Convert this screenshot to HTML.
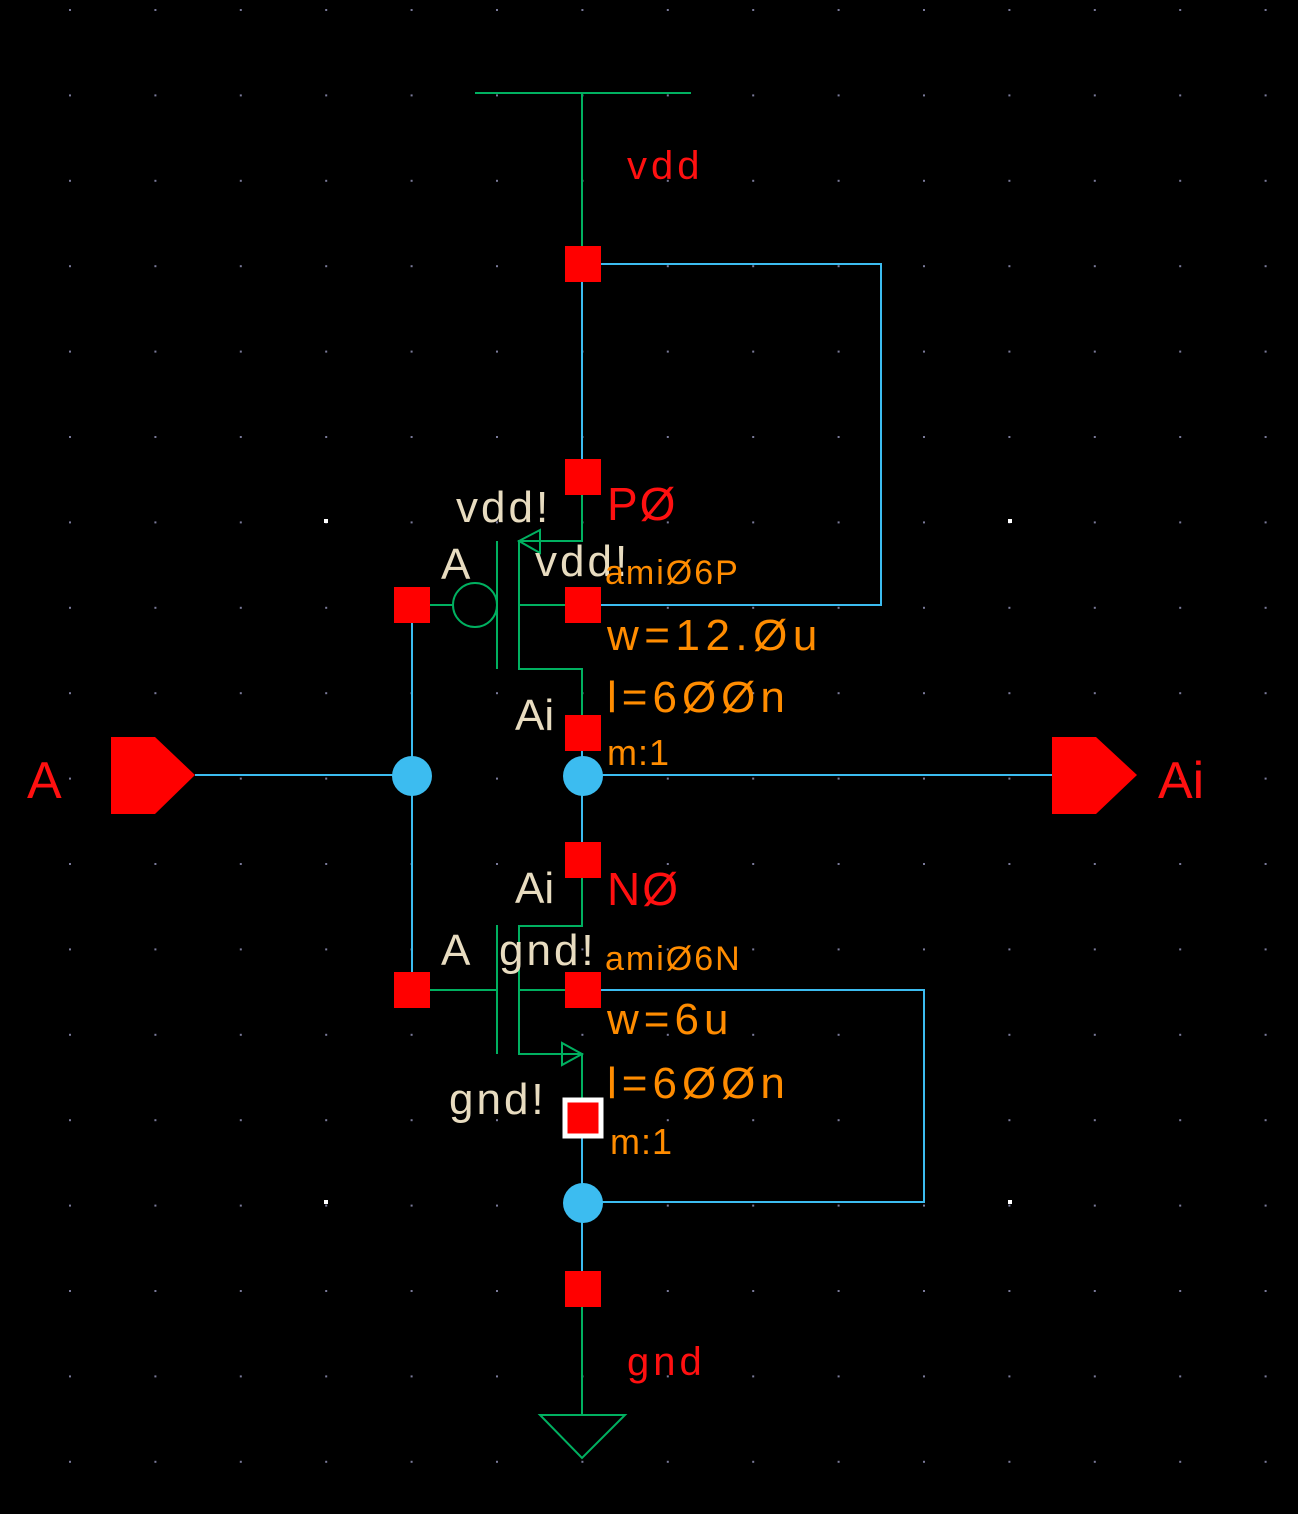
<!DOCTYPE html>
<html><head><style>
html,body{margin:0;padding:0;background:#000;}
svg{display:block;}
text{font-family:"Liberation Sans",sans-serif;}
</style></head><body>
<svg width="1298" height="1514" viewBox="0 0 1298 1514" xmlns="http://www.w3.org/2000/svg">
<defs>
<pattern id="g" x="69" y="9" width="85.4" height="85.4" patternUnits="userSpaceOnUse">
<rect x="0" y="0" width="2" height="2" fill="#7a7a9a"/>
</pattern>
</defs>
<rect width="1298" height="1514" fill="#000"/>
<rect width="1298" height="1514" fill="url(#g)"/>
<g fill="#fff"><rect x="324" y="519" width="4" height="4"/><rect x="1008" y="519" width="4" height="4"/><rect x="324" y="1200" width="4" height="4"/><rect x="1008" y="1200" width="4" height="4"/></g>

<g stroke="#00b060" stroke-width="2" fill="none">
<line x1="475" y1="93" x2="691" y2="93"/>
<line x1="582" y1="93" x2="582" y2="264"/>
<polyline points="582,477 582,541 519,541 519,669 582,669 582,733"/>
<line x1="519" y1="605" x2="565" y2="605"/>
<line x1="497" y1="541" x2="497" y2="669"/>
<circle cx="475" cy="605" r="22"/>
<line x1="430" y1="605" x2="453" y2="605"/>
<polygon points="519,541 540,530 540,553"/>
<polyline points="582,860 582,926 519,926 519,1054 582,1054 582,1118"/>
<line x1="519" y1="990" x2="565" y2="990"/>
<line x1="497" y1="925" x2="497" y2="1054"/>
<line x1="430" y1="990" x2="497" y2="990"/>
<polygon points="582,1054 562,1043 562,1065"/>
<line x1="582" y1="1289" x2="582" y2="1415"/>
<polygon points="540,1415 625,1415 582,1458"/>
</g>

<g stroke="#3cbcf0" stroke-width="2" fill="none">
<line x1="582" y1="264" x2="582" y2="477"/>
<polyline points="583,264 881,264 881,605 583,605"/>
<line x1="412" y1="605" x2="412" y2="990"/>
<line x1="195" y1="775" x2="412" y2="775"/>
<line x1="583" y1="775" x2="1052" y2="775"/>
<line x1="582" y1="733" x2="582" y2="860"/>
<line x1="582" y1="1118" x2="582" y2="1289"/>
<polyline points="583,990 924,990 924,1202 583,1202"/>
</g>
<g fill="#3cbcf0">
<circle cx="412" cy="776" r="20"/><circle cx="583" cy="776" r="20"/><circle cx="583" cy="1203" r="20"/>
</g>

<g fill="#ff0000">
<rect x="565" y="246" width="36" height="36"/>
<rect x="565" y="459" width="36" height="36"/>
<rect x="565" y="587" width="36" height="36"/>
<rect x="394" y="587" width="36" height="36"/>
<rect x="565" y="715" width="36" height="36"/>
<rect x="565" y="842" width="36" height="36"/>
<rect x="394" y="972" width="36" height="36"/>
<rect x="565" y="972" width="36" height="36"/>
<rect x="565" y="1271" width="36" height="36"/>
</g>
<rect x="565" y="1100" width="36" height="36" fill="#ff0000" stroke="#fff" stroke-width="5"/>

<polygon points="111,737 155,737 195,775 155,814 111,814" fill="#ff0000"/>
<polygon points="1052,737 1096,737 1137,775 1096,814 1052,814" fill="#ff0000"/>

<g fill="#ff1010">
<text x="27" y="798" font-size="52">A</text>
<text x="1158" y="798" font-size="52">Ai</text>
<text x="627" y="179" font-size="40" letter-spacing="4">vdd</text>
<text x="627" y="1375" font-size="40" letter-spacing="4">gnd</text>
<text x="607" y="520" font-size="46" letter-spacing="2">PØ</text>
<text x="607" y="905" font-size="46" letter-spacing="2">NØ</text>
</g>

<g fill="#e8dcc0" font-size="44">
<text x="456" y="522" letter-spacing="3">vdd!</text>
<text x="441" y="579">A</text>
<text x="535" y="576" letter-spacing="3">vdd!</text>
<text x="515" y="730">Ai</text>
<text x="515" y="903">Ai</text>
<text x="441" y="965">A</text>
<text x="499" y="965" letter-spacing="3">gnd!</text>
<text x="449" y="1114" letter-spacing="3">gnd!</text>
</g>

<g fill="#ff8c00">
<text x="605" y="584" font-size="34" letter-spacing="2">amiØ6P</text>
<text x="607" y="650" font-size="44" letter-spacing="5.5">w=12.Øu</text>
<text x="607" y="712" font-size="44" letter-spacing="5">l=6ØØn</text>
<text x="607" y="765" font-size="36" letter-spacing="1">m:1</text>
<text x="605" y="970" font-size="34" letter-spacing="2">amiØ6N</text>
<text x="607" y="1034" font-size="44" letter-spacing="5">w=6u</text>
<text x="607" y="1098" font-size="44" letter-spacing="5">l=6ØØn</text>
<text x="610" y="1154" font-size="36" letter-spacing="1">m:1</text>
</g>
</svg>
</body></html>
